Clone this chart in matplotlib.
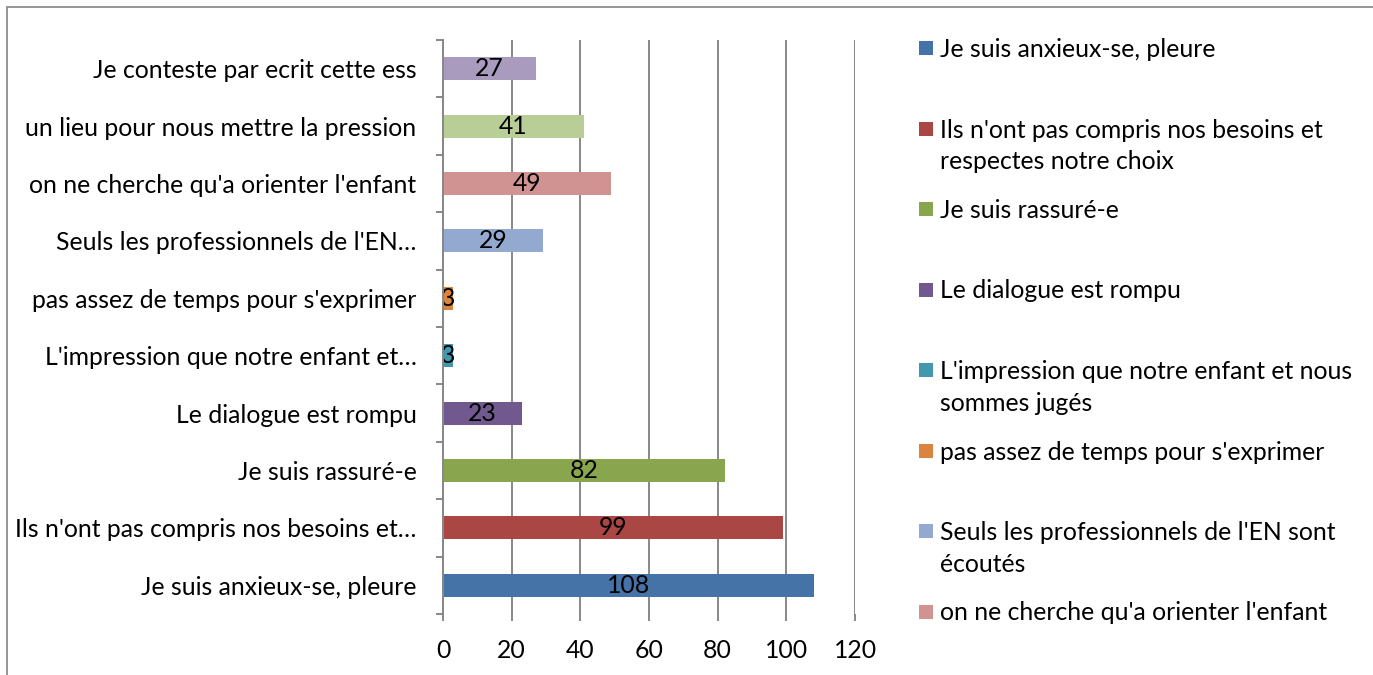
import matplotlib.pyplot as plt
from matplotlib.patches import Rectangle

# categories drawn bottom to top
categories = [
    "Je suis anxieux-se, pleure",
    "Ils n'ont pas compris nos besoins et…",
    "Je suis rassuré-e",
    "Le dialogue est rompu",
    "L'impression que notre enfant et…",
    "pas assez de temps pour s'exprimer",
    "Seuls les professionnels de l'EN…",
    "on ne cherche qu'a orienter l'enfant",
    "un lieu pour nous mettre la pression",
    "Je conteste par ecrit cette ess",
]
values = [108, 99, 82, 23, 3, 3, 29, 49, 41, 27]
colors = ["#4572A7", "#AA4643", "#89A54E", "#71588F", "#4198AF",
          "#DB843D", "#93A9CF", "#D19392", "#B9CD96", "#A99BBD"]
legend_labels = [
    "Je suis anxieux-se, pleure",
    "Ils n'ont pas compris nos besoins et\nrespectes notre choix",
    "Je suis rassuré-e",
    "Le dialogue est rompu",
    "L'impression que notre enfant et nous\nsommes jugés",
    "pas assez de temps pour s'exprimer",
    "Seuls les professionnels de l'EN sont\nécoutés",
    "on ne cherche qu'a orienter l'enfant",
]
xticks = [0, 20, 40, 60, 80, 100, 120]

plt.rcParams['font.family'] = ['Lato', 'DejaVu Sans']
FS = 17.8
W, H = 1373, 675

fig = plt.figure(figsize=(W / 100, H / 100), dpi=100)
ax = fig.add_axes([443 / W, 1 - 614 / H, (855 - 443) / W, (614 - 40) / H])

pos = list(range(len(categories)))
bars = ax.barh(pos, values, height=0.4, color=colors, zorder=3)
for b, v in zip(bars, values):
    ax.text(b.get_x() + b.get_width() / 2, b.get_y() + b.get_height() / 2, str(v),
            ha="center", va="center", fontsize=FS, color="black", zorder=4)

ax.set_xlim(0, 120)
ax.set_ylim(-0.5, len(categories) - 0.5)
ax.set_xticks(xticks)
ax.set_xticklabels([str(t) for t in xticks], fontsize=FS)
ax.tick_params(axis="x", length=5, width=1.4, color="#878787", pad=13)

# boundary ticks on the category axis, labels at category centres
ax.set_yticks([p - 0.5 for p in pos] + [len(categories) - 0.5])
ax.set_yticklabels([])
ax.tick_params(axis="y", which="major", length=5, width=1.4, color="#878787")
ax.set_yticks(pos, minor=True)
ax.set_yticklabels(categories, minor=True, fontsize=FS)
ax.tick_params(axis="y", which="minor", length=0, pad=19)

ax.grid(axis="x", color="#878787", linewidth=1.4, zorder=0)
for s in ["top", "right", "bottom"]:
    ax.spines[s].set_visible(False)
ax.spines["left"].set_color("#878787")
ax.spines["left"].set_linewidth(1.4)
ax.spines["left"].set_zorder(5)

# legend entries, one per slot
slot = 80.5
for i, lab in enumerate(legend_labels):
    top = 38 + i * slot
    fig.patches.append(Rectangle((919 / W, 1 - (top + 17) / H), 14 / W, 14 / H,
                                 transform=fig.transFigure, facecolor=colors[i],
                                 edgecolor="none"))
    fig.text(940 / W, 1 - top / H, lab, fontsize=FS, va="top", ha="left",
             linespacing=1.47)

# outer chart border
fig.patches.append(Rectangle((7 / W, -0.1), 1.2, 1.1 - 7 / H,
                             transform=fig.transFigure, fill=False,
                             edgecolor="#8c8c8c", linewidth=1.3))

fig.savefig("out.png", dpi=100)
